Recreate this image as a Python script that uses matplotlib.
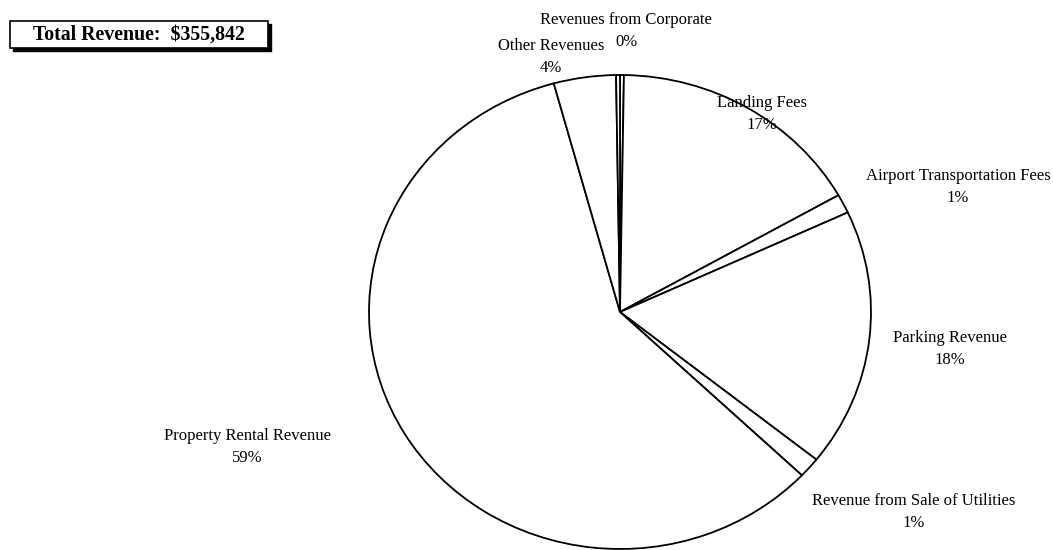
import matplotlib.pyplot as plt
from matplotlib.patches import Rectangle

plt.rcParams['font.family'] = ['Liberation Serif', 'DejaVu Serif']

# Porcentajes de ingresos (en el sentido del reloj desde arriba)
categorias = ["Revenues from Corporate", "Landing Fees", "Airport Transportation Fees",
              "Parking Revenue", "Revenue from Sale of Utilities", "Property Rental Revenue",
              "Other Revenues", ""]
porcentajes = [0.25, 16.55, 1.3, 17.6, 1.4, 58.65, 4.0, 0.25]
etiquetas_pct = ["0%", "17%", "1%", "18%", "1%", "59%", "4%", ""]
total_texto = "Total Revenue:  $355,842"

# posiciones de las etiquetas (pixeles, centro de la primera linea)
pos_etiquetas = [(626, 20), (762, 103), (958, 176), (950, 338), (914, 501), (247, 436), (551, 46), None]

W, H = 1053, 550
fig = plt.figure(figsize=(W / 100, H / 100), dpi=100)

# pastel ligeramente eliptico como en la imagen
ax = fig.add_axes([369 / W, 1 / H, 502 / W, 474 / H])
ax.pie(porcentajes, startangle=90, counterclock=False, colors=['white'] * len(porcentajes),
       wedgeprops=dict(edgecolor='black', linewidth=1.3))
ax.set_aspect('auto')
ax.set_xlim(-1, 1)
ax.set_ylim(-1, 1)
ax.axis('off')

for nombre, pct, pos in zip(categorias, etiquetas_pct, pos_etiquetas):
    if pos is None:
        continue
    x, y = pos
    fig.text(x / W, 1 - y / H, nombre, ha='center', va='center', fontsize=12)
    fig.text(x / W, 1 - (y + 22) / H, pct, ha='center', va='center', fontsize=12)

# caja del total con sombra
sombra = Rectangle((13 / W, 1 - 51 / H), 258 / W, 27 / H, transform=fig.transFigure,
                   facecolor='black', edgecolor='black')
caja = Rectangle((10 / W, 1 - 48 / H), 258 / W, 27 / H, transform=fig.transFigure,
                 facecolor='white', edgecolor='black', linewidth=1.2)
fig.patches.extend([sombra, caja])
fig.text(139 / W, 1 - 35 / H, total_texto, ha='center', va='center',
         fontsize=14.3, fontweight='bold')

fig.savefig('out.png', dpi=100)
